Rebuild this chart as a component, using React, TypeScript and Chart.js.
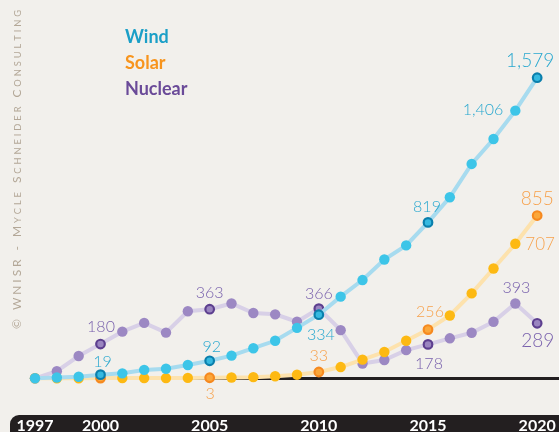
import React, { useEffect, useRef } from "react";
import { Chart, registerables } from "chart.js";

Chart.register(...registerables);

// ---------- data ----------
const years = [
  1997, 1998, 1999, 2000, 2001, 2002, 2003, 2004, 2005, 2006, 2007, 2008,
  2009, 2010, 2011, 2012, 2013, 2014, 2015, 2016, 2017, 2018, 2019, 2020,
];
const seriesNames = ["Wind", "Solar", "Nuclear"];
const wind = [
  0, 4, 8, 19, 26, 44, 50, 70, 92, 119, 158, 197, 265, 334, 429, 516, 624,
  698, 819, 951, 1126, 1257, 1406, 1579,
];
const solar = [
  0, 0, 0, 1, 1, 1, 1, 2, 3, 4, 6, 11, 19, 33, 59, 98, 138, 197, 256, 330,
  446, 577, 707, 855,
];
const nuclear = [
  0, 37, 117, 180, 245, 291, 240, 352, 363, 393, 343, 336, 297, 366, 253, 78,
  96, 148, 178, 210, 239, 297, 393, 289,
];
const tickYears = [1997, 2000, 2005, 2010, 2015, 2020];
const highlightYears = [2000, 2005, 2010, 2015, 2020];
const watermarkText = "© WNISR - Mycle Schneider Consulting";

// value labels: which points carry a number, and where it goes
const valueLabels = [
  { series: 0, year: 2000, align: "center", dx: 2, dy: -8, size: 16 },
  { series: 0, year: 2005, align: "center", dx: 2, dy: -8.5, size: 16 },
  { series: 0, year: 2010, align: "center", dx: 2, dy: 25, size: 16 },
  { series: 0, year: 2015, align: "center", dx: -1, dy: -10.5, size: 16 },
  { series: 0, year: 2019, align: "right", dx: -12, dy: 4, size: 16 },
  { series: 0, year: 2020, align: "center", dx: -7, dy: -10.5, size: 19 },
  { series: 1, year: 2005, align: "center", dx: 0.5, dy: 21, size: 16 },
  { series: 1, year: 2010, align: "center", dx: 0, dy: -11.5, size: 16 },
  { series: 1, year: 2015, align: "center", dx: 2, dy: -12.5, size: 16 },
  { series: 1, year: 2019, align: "left", dx: 10, dy: 6.5, size: 17 },
  { series: 1, year: 2020, align: "center", dx: 0, dy: -10.5, size: 19 },
  { series: 2, year: 2000, align: "center", dx: 0.5, dy: -12.5, size: 16 },
  { series: 2, year: 2005, align: "center", dx: 0, dy: -11.5, size: 16 },
  { series: 2, year: 2010, align: "center", dx: 0, dy: -10, size: 16 },
  { series: 2, year: 2015, align: "center", dx: 1, dy: 25, size: 16 },
  { series: 2, year: 2019, align: "center", dx: 1, dy: -10.5, size: 16 },
  { series: 2, year: 2020, align: "center", dx: 0.5, dy: 23.5, size: 19 },
];

// ---------- styles ----------
const BG = "#f2f0ec";
const FONT = "Lato, 'Open Sans', sans-serif";
const lineColors = ["#a7dbef", "#fde2ad", "#d8d0e7"];
const pointColors = ["#3dc5e8", "#fdb913", "#9c88c3"];
const ringColors = ["#0b7fac", "#f6891f", "#5d3f8f"];
const ringFill = ["#35b9e0", "#fba73a", "#9a85c0"];
const labelColors = ["#2aa8cf", "#f7a24d", "#7961ad"];
const legendColors = ["#1b9fc7", "#f7941d", "#6a4a98"];

const PX_PER_UNIT = 0.19037;
const Y_MAX = 1800;
const PLOT_BOTTOM = 378.3;

const decorPlugin = {
  id: "decor",
  beforeDraw(chart: any) {
    const { ctx, width, height } = chart;
    ctx.save();
    ctx.fillStyle = BG;
    ctx.fillRect(0, 0, width, height);
    ctx.fillStyle = "#231f20";
    ctx.beginPath();
    ctx.roundRect(10, 415, width + 30, 40, 9);
    ctx.fill();
    ctx.restore();
  },
  afterDatasetsDraw(chart: any) {
    const { ctx } = chart;
    ctx.save();
    for (const l of valueLabels) {
      const idx = years.indexOf(l.year);
      const el = chart.getDatasetMeta(l.series).data[idx];
      const v = chart.data.datasets[l.series].data[idx].y;
      ctx.font = `300 ${l.size}px ${FONT}`;
      ctx.fillStyle = labelColors[l.series];
      ctx.textAlign = l.align;
      ctx.textBaseline = "alphabetic";
      ctx.fillText(v.toLocaleString("en-US"), el.x + l.dx, el.y + l.dy);
    }
    ctx.restore();
  },
  afterDraw(chart: any) {
    const { ctx } = chart;
    ctx.save();
    // legend (text only)
    ctx.font = `bold 18px ${FONT}`;
    ctx.textAlign = "left";
    ctx.textBaseline = "alphabetic";
    chart.data.datasets.forEach((ds: any, i: number) => {
      ctx.fillStyle = legendColors[i];
      ctx.fillText(ds.label, 125, 42.7 + i * 26.2);
    });
    // vertical watermark in small caps
    const chars = Array.from(watermarkText).map((c) => {
      const small = c !== c.toUpperCase();
      return { c: c.toUpperCase(), font: small ? `9.3px ${FONT}` : `12px ${FONT}` };
    });
    let total = 0;
    const widths = chars.map((o) => {
      ctx.font = o.font;
      const w = ctx.measureText(o.c).width;
      total += w;
      return w;
    });
    const L = 319;
    const sp = (L - total) / (chars.length - 1);
    ctx.translate(20.5, 329);
    ctx.rotate(-Math.PI / 2);
    ctx.fillStyle = "#b3a797";
    let x = 0;
    chars.forEach((o, i) => {
      ctx.font = o.font;
      ctx.fillText(o.c, x, 0);
      x += widths[i] + sp;
    });
    ctx.restore();
  },
};

function makeDataset(i: number, values: number[]) {
  const hl = (ctx: any) => highlightYears.includes(years[ctx.dataIndex]);
  return {
    label: seriesNames[i],
    data: years.map((y, k) => ({ x: y, y: values[k] })),
    borderColor: lineColors[i],
    borderWidth: 4,
    tension: 0,
    clip: false,
    pointRadius: (c: any) => (hl(c) ? 4.3 : 5.2),
    pointBorderWidth: (c: any) => (hl(c) ? 2.2 : 0),
    pointBorderColor: (c: any) => (hl(c) ? ringColors[i] : pointColors[i]),
    pointBackgroundColor: (c: any) => (hl(c) ? ringFill[i] : pointColors[i]),
    order: i,
  };
}

export default function App() {
  const ref = useRef<HTMLCanvasElement | null>(null);
  useEffect(() => {
    if (!ref.current) return;
    const chart = new Chart(ref.current, {
      type: "line",
      data: {
        datasets: [
          makeDataset(0, wind),
          makeDataset(1, solar),
          makeDataset(2, nuclear),
        ],
      },
      options: {
        animation: false,
        responsive: true,
        maintainAspectRatio: false,
        devicePixelRatio: 1,
        layout: {
          autoPadding: false,
          padding: {
            left: 35,
            right: 0,
            top: PLOT_BOTTOM - Y_MAX * PX_PER_UNIT,
            bottom: 0,
          },
        },
        plugins: {
          legend: { display: false },
          tooltip: { enabled: false },
        },
        scales: {
          x: {
            type: "linear",
            min: 1997,
            max: 2021,
            grid: { display: false },
            border: { display: false },
            afterBuildTicks: (s: any) => {
              s.ticks = tickYears.map((v) => ({ value: v }));
            },
            afterFit: (s: any) => {
              s.height = 432 - PLOT_BOTTOM;
              s.paddingLeft = 0;
              s.paddingRight = 0;
            },
            ticks: {
              color: "#ffffff",
              font: { family: FONT, weight: "bold", size: 16 },
              padding: 30,
              autoSkip: false,
              maxRotation: 0,
              callback: (v: any) => String(v),
            },
          },
          y: {
            min: 0,
            max: Y_MAX,
            border: { display: false },
            ticks: { display: false },
            grid: {
              drawTicks: false,
              color: (c: any) => (c.tick && c.tick.value === 0 ? "#231f20" : "rgba(0,0,0,0)"),
              lineWidth: (c: any) => (c.tick && c.tick.value === 0 ? 3 : 1),
            },
            afterFit: (s: any) => {
              s.width = 0;
              s.paddingTop = 0;
              s.paddingBottom = 0;
            },
          },
        },
      } as any,
      plugins: [decorPlugin],
    });
    return () => chart.destroy();
  }, []);
  return (
    <div style={{ position: "fixed", left: 0, top: 0, width: 559, height: 432, background: BG }}>
      <canvas ref={ref} />
    </div>
  );
}
